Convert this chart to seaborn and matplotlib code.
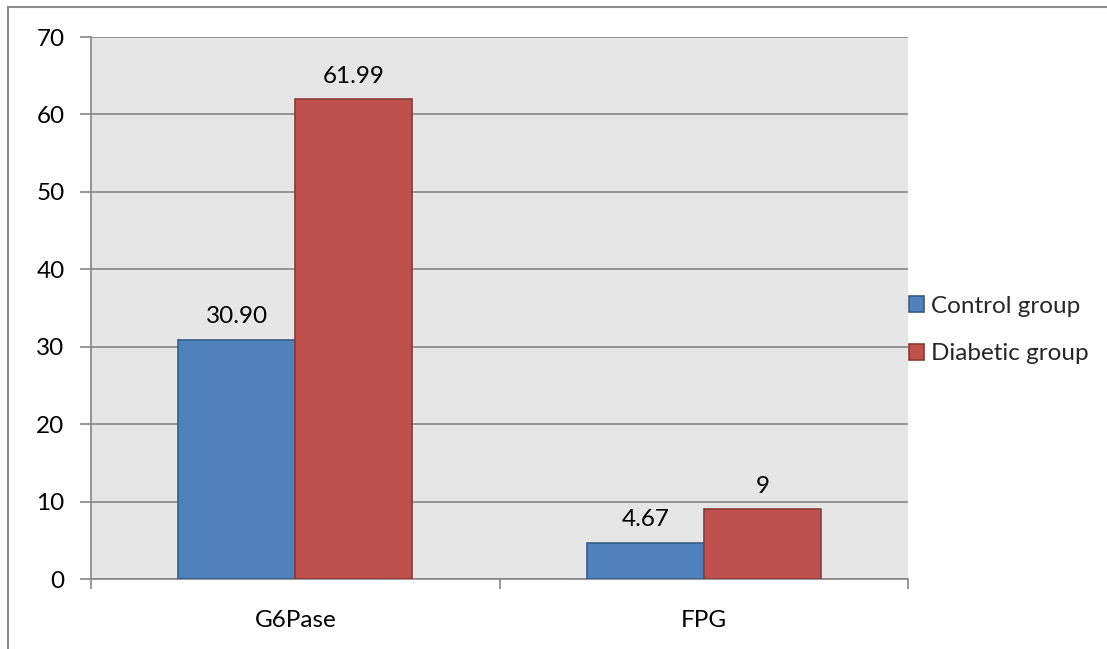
import matplotlib
matplotlib.use("Agg")
import matplotlib.pyplot as plt
from matplotlib.patches import Rectangle, Patch
import seaborn as sns
import pandas as pd

categories = ["G6Pase", "FPG"]
groups = ["Control group", "Diabetic group"]
control_values = [30.90, 4.67]
diabetic_values = [61.99, 9]
value_labels_control = ["30.90", "4.67"]
value_labels_diabetic = ["61.99", "9"]

colors = {"Control group": "#4F81BD", "Diabetic group": "#C0504D"}
edges = {"Control group": "#385D8A", "Diabetic group": "#8C3836"}

df = pd.DataFrame({
    "metric": categories * 2,
    "group": [groups[0]] * 2 + [groups[1]] * 2,
    "value": control_values + diabetic_values,
})

sns.set_style("white")
plt.rcParams["font.family"] = ["Lato", "DejaVu Sans"]
FS = 17.5

fig = plt.figure(figsize=(11.07, 6.49), dpi=100)
ax = fig.add_axes([91 / 1107, 1 - 579 / 649, (908 - 91) / 1107, (579 - 37) / 649])
ax.set_facecolor("#E6E6E6")

sns.barplot(data=df, x="metric", y="value", hue="group", order=categories,
            hue_order=groups, palette=colors, width=0.573, ax=ax,
            legend=False, saturation=1, linewidth=1.2)

# Outline each bar in a darker shade of its fill
for container, g in zip(ax.containers, groups):
    for bar in container:
        bar.set_edgecolor(edges[g])
        bar.set_zorder(3)

for container, labels in zip(ax.containers, [value_labels_control, value_labels_diabetic]):
    ax.bar_label(container, labels=labels, padding=9, fontsize=FS, color="#000000")

ax.set_ylim(0, 70)
ax.set_yticks(range(0, 71, 10))
ax.set_xlim(-0.5, 1.5)
ax.yaxis.grid(True, color="#868686", linewidth=1.2, zorder=0)
ax.set_axisbelow(True)

for side in ["top", "right"]:
    ax.spines[side].set_visible(False)
for side in ["left", "bottom"]:
    ax.spines[side].set_color("#868686")
    ax.spines[side].set_linewidth(1.2)

ax.set_xlabel("")
ax.set_ylabel("")
ax.tick_params(axis="y", direction="out", length=8, width=1.2, color="#868686",
               labelsize=FS, labelcolor="#000000", pad=11, left=True)
ax.tick_params(axis="x", which="major", length=0, labelsize=FS, labelcolor="#000000",
               pad=22, bottom=True)
ax.set_xticks([-0.5, 0.5, 1.5], minor=True)
ax.tick_params(axis="x", which="minor", direction="out", length=7, width=1.2,
               color="#868686", bottom=True)

handles = [Patch(facecolor=colors[g], edgecolor=edges[g], linewidth=1.2) for g in groups]
fig.legend(handles, groups, loc="center left", bbox_to_anchor=(909 / 1107, 1 - 330 / 649),
           frameon=False, fontsize=FS, handlelength=0.62, handleheight=0.62,
           handletextpad=0.3, labelspacing=1.1, borderaxespad=0, borderpad=0)

# Outer chart frame
fig.add_artist(Rectangle((8 / 1107, -0.2), 1.2, 1.2 - 7 / 649, transform=fig.transFigure,
                         fill=False, edgecolor="#8C8C8C", linewidth=1.5))

fig.savefig("out.png", dpi=100)
